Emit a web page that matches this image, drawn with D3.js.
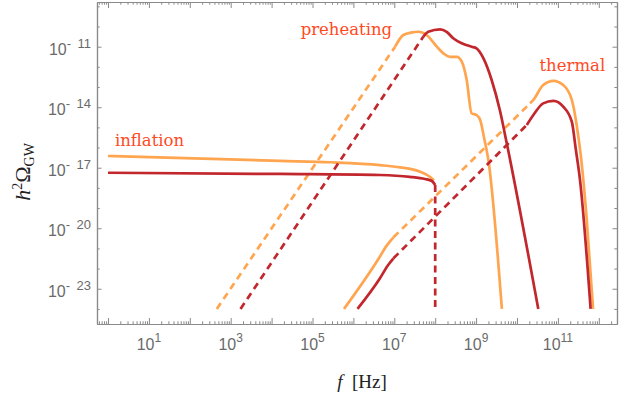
<!DOCTYPE html>
<html>
<head>
<meta charset="utf-8">
<script src="https://cdn.jsdelivr.net/npm/d3@7"></script>
<style>
  body { margin: 0; background: #fff; }
  svg { display: block; }
</style>
</head>
<body>
<section></section>
<script>
// global constants.
const width = 619;
const height = 402;
const margin = { left: 97, right: 2, top: 2, bottom: 78 };

const orange = '#ffa54f';
const darkRed = '#c1272d';
const labelColor = '#ff4a1f';

// exponents of the axis range: log10(f) and log10(h^2 Omega)
const xRange = [-0.269, 12.445];
const yRange = [-24.748, -8.784];

// tick decades
const xDecades = d3.range(0, 13);
const xLabelled = [1, 3, 5, 7, 9, 11];
const yDecades = d3.range(-24, -8);
const yLabelled = [-23, -20, -17, -14, -11];

// curves as [log10 f, log10 h^2 Omega]
const inflationLight = [[0, -16.42], [4.21, -16.66], [5.43, -16.73], [6.65, -16.87], [7.14, -16.98], [7.63, -17.2], [7.87, -17.45], [7.97, -17.63]];
const inflationDark = [[0, -17.25], [4.21, -17.31], [6.65, -17.36], [7.38, -17.45], [7.75, -17.56], [7.92, -17.66], [8.0, -17.86]];
const inflationDarkCut = [[8.0, -17.86], [8.0, -24.0]];

const preheatLightDash = [[2.66, -24.0], [7.02, -11.0]];
const preheatLight = [[7.02, -11.0], [7.22, -10.42], [7.43, -10.29], [7.59, -10.26], [7.79, -10.42], [8.04, -11.0], [8.2, -11.33], [8.36, -11.5], [8.53, -11.5], [8.65, -11.74], [8.77, -12.65], [8.89, -14.3], [9.01, -14.39], [9.1, -14.63], [9.19, -15.46], [9.3, -16.62], [9.63, -24.0]];
const preheatDarkDash = [[3.24, -24.0], [7.71, -10.5]];
const preheatDark = [[7.71, -10.5], [7.83, -10.26], [8.12, -10.14], [8.28, -10.26], [8.44, -10.58], [8.65, -10.83], [8.89, -11.0], [9.01, -11.08], [9.18, -11.58], [9.38, -12.65], [9.58, -14.14], [9.75, -15.79], [10.52, -24.0]];

const thermalLightLow = [[5.77, -24.0], [6.65, -21.4], [6.8, -20.9], [6.98, -20.45]];
const thermalLightDash = [[6.98, -20.45], [10.32, -13.81]];
const thermalLight = [[10.32, -13.81], [10.4, -13.64], [10.64, -12.9], [10.89, -12.69], [11.13, -12.9], [11.34, -13.64], [11.5, -15.46], [11.56, -16.4], [11.7, -19.43], [11.86, -24.0]];
const thermalDarkLow = [[6.1, -24.0], [6.65, -22.48], [6.85, -21.82], [6.98, -21.49]];
const thermalDarkDash = [[6.98, -21.49], [10.24, -14.88]];
const thermalDark = [[10.24, -14.88], [10.4, -14.39], [10.64, -13.81], [10.89, -13.69], [11.13, -13.97], [11.34, -14.72], [11.44, -16.12], [11.54, -17.6], [11.8, -24.0]];

// annotations: [log10 f, log10 h^2 Omega, text]
const annotations = [[0.17, -15.9, 'inflation'], [4.71, -10.42, 'preheating'], [10.55, -12.2, 'thermal']];

const pow = (e) => Math.pow(10, e);

const svg = d3.select('section')
  .append('svg')
  .attr('width', width)
  .attr('height', height);

const x = d3.scaleLog()
  .domain(xRange.map(pow))
  .range([margin.left, width - margin.right]);

const y = d3.scaleLog()
  .domain(yRange.map(pow))
  .range([height - margin.bottom, margin.top]);

const x0 = margin.left, x1 = width - margin.right;
const y0 = height - margin.bottom, y1 = margin.top;

svg.append('clipPath')
  .attr('id', 'plot')
  .append('rect')
  .attr('x', x0)
  .attr('y', y1)
  .attr('width', x1 - x0)
  .attr('height', y0 - y1);

// x tick values
const xMinor = [];
xDecades.concat([-1]).forEach((d) => {
  for (let k = 2; k <= 9; k++) {
    const v = k * pow(d);
    if (v > x.domain()[0] && v < x.domain()[1]) xMinor.push(v);
  }
});
const xMajor = xDecades.map(pow);
const yMajor = yLabelled.map(pow);
const yMinor = yDecades.filter((d) => !yLabelled.includes(d)).map(pow);

const axisStyle = (g) => {
  g.select('.domain').attr('stroke', '#8a8a8a').attr('stroke-width', 1.2);
  g.selectAll('.tick line').attr('stroke', '#8a8a8a').attr('stroke-width', 1);
};

// bottom axis
svg.append('g')
  .attr('transform', `translate(0, ${y0})`)
  .call(d3.axisBottom(x).tickValues(xMinor).tickSize(-2.7).tickFormat('').tickSizeOuter(0))
  .call(axisStyle);

svg.append('g')
  .attr('transform', `translate(0, ${y0})`)
  .call(d3.axisBottom(x).tickValues(xMajor).tickSize(-6).tickSizeOuter(0).tickFormat(''))
  .call(axisStyle);

// top axis
svg.append('g')
  .attr('transform', `translate(0, ${y1})`)
  .call(d3.axisTop(x).tickValues(xMinor).tickSize(-2.7).tickFormat('').tickSizeOuter(0))
  .call(axisStyle);
svg.append('g')
  .attr('transform', `translate(0, ${y1})`)
  .call(d3.axisTop(x).tickValues(xMajor).tickSize(-6).tickFormat('').tickSizeOuter(0))
  .call(axisStyle);

// left axis
svg.append('g')
  .attr('transform', `translate(${x0}, 0)`)
  .call(d3.axisLeft(y).tickValues(yMinor).tickSize(-2.7).tickFormat('').tickSizeOuter(0))
  .call(axisStyle);
svg.append('g')
  .attr('transform', `translate(${x0}, 0)`)
  .call(d3.axisLeft(y).tickValues(yMajor).tickSize(-4.5).tickFormat('').tickSizeOuter(0))
  .call(axisStyle);

// right axis
svg.append('g')
  .attr('transform', `translate(${x1}, 0)`)
  .call(d3.axisRight(y).tickValues(yMinor).tickSize(-2.7).tickFormat('').tickSizeOuter(0))
  .call(axisStyle);
svg.append('g')
  .attr('transform', `translate(${x1}, 0)`)
  .call(d3.axisRight(y).tickValues(yMajor).tickSize(-4.5).tickFormat('').tickSizeOuter(0))
  .call(axisStyle);

// tick labels, 10 with a raised exponent
const tickFont = "'Liberation Sans', Arial, sans-serif";

const xLab = svg.append('g').attr('fill', '#6a6a6a').attr('font-family', tickFont);
xLabelled.forEach((e) => {
  const t = xLab.append('text')
    .attr('x', x(pow(e)))
    .attr('y', 350)
    .attr('text-anchor', 'middle')
    .attr('font-size', 16);
  t.append('tspan').text('10');
  t.append('tspan').attr('dy', -8).attr('font-size', 12).text(e);
});

const yLab = svg.append('g').attr('fill', '#6a6a6a').attr('font-family', tickFont);
yLabelled.forEach((e) => {
  const t = yLab.append('text')
    .attr('x', x0 - 6)
    .attr('y', y(pow(e)) + 8)
    .attr('text-anchor', 'end')
    .attr('font-size', 16);
  t.append('tspan').text('10');
  t.append('tspan').attr('dy', -7).attr('font-size', 13).text('-\u2002' + Math.abs(e));
});

// axis titles
const title = svg.append('text')
  .attr('x', 362)
  .attr('y', 388)
  .attr('text-anchor', 'middle')
  .attr('font-family', "'Liberation Serif', 'Times New Roman', serif")
  .attr('font-size', 19)
  .attr('fill', '#222');
title.append('tspan').attr('font-style', 'italic').text('f');
title.append('tspan').text('\u2002[Hz]');

const ytitle = svg.append('text')
  .attr('transform', 'translate(30, 172) rotate(-90)')
  .attr('text-anchor', 'middle')
  .attr('font-family', "'Liberation Serif', 'Times New Roman', serif")
  .attr('font-size', 22)
  .attr('fill', '#222');
ytitle.append('tspan').attr('font-style', 'italic').text('h');
ytitle.append('tspan').attr('dy', -8).attr('font-size', 14).text('2');
ytitle.append('tspan').attr('dy', 8).text('\u03A9');
ytitle.append('tspan').attr('dy', 4).attr('font-size', 14).text('GW');

// the curves
const line = d3.line()
  .x((d) => x(pow(d[0])))
  .y((d) => y(pow(d[1])))
  .curve(d3.curveMonotoneX);

const straight = d3.line()
  .x((d) => x(pow(d[0])))
  .y((d) => y(pow(d[1])));

const curves = [
  { data: inflationLight, color: orange, dash: null, gen: line },
  { data: preheatLightDash, color: orange, dash: '7,5', gen: straight },
  { data: preheatLight, color: orange, dash: null, gen: line },
  { data: thermalLightLow, color: orange, dash: null, gen: line },
  { data: thermalLightDash, color: orange, dash: '7,5', gen: straight },
  { data: thermalLight, color: orange, dash: null, gen: line },
  { data: inflationDark, color: darkRed, dash: null, gen: line },
  { data: inflationDarkCut, color: darkRed, dash: '7,4.5', gen: straight },
  { data: preheatDarkDash, color: darkRed, dash: '7,5', gen: straight },
  { data: preheatDark, color: darkRed, dash: null, gen: line },
  { data: thermalDarkLow, color: darkRed, dash: null, gen: line },
  { data: thermalDarkDash, color: darkRed, dash: '7,5', gen: straight },
  { data: thermalDark, color: darkRed, dash: null, gen: line }
];

svg.append('g')
  .attr('clip-path', 'url(#plot)')
  .selectAll('path')
  .data(curves)
  .enter()
  .append('path')
  .attr('d', (c) => c.gen(c.data))
  .attr('fill', 'none')
  .attr('stroke', (c) => c.color)
  .attr('stroke-width', 2.7)
  .attr('stroke-dasharray', (c) => c.dash)
  .attr('stroke-linejoin', 'round');

// labels on the curves
svg.append('g')
  .selectAll('text')
  .data(annotations)
  .enter()
  .append('text')
  .attr('x', (d) => x(pow(d[0])))
  .attr('y', (d) => y(pow(d[1])))
  .attr('font-family', "'DejaVu Serif', serif")
  .attr('font-size', 16.5)
  .attr('fill', labelColor)
  .text((d) => d[2]);
</script>
</body>
</html>
